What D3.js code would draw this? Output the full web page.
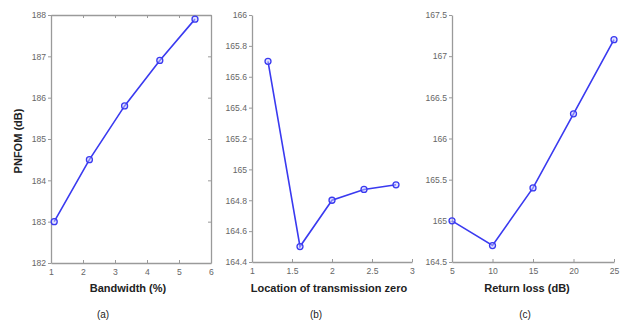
<!DOCTYPE html>
<html>
<head>
<meta charset="utf-8">
<script src="https://cdn.jsdelivr.net/npm/d3@7"></script>
<style>
  html, body { margin: 0; padding: 0; background: #fff; }
  svg { display: block; }
  .tick text { font-family: "Liberation Sans Narrow", "Liberation Sans", Arial, sans-serif; font-size: 8.6px; fill: #666; }
  .lbl { font-family: "Liberation Sans Narrow", "Liberation Sans", Arial, sans-serif; font-weight: bold; font-size: 11px; fill: #222; }
  .cap { font-family: "Liberation Sans Narrow", "Liberation Sans", Arial, sans-serif; font-size: 10px; fill: #222; }
</style>
</head>
<body>
<svg id="chart" width="627" height="322"></svg>
<script>
// Panel (a): PNFOM versus bandwidth
const bandwidth = [1.1, 2.2, 3.3, 4.4, 5.5];
const pnfomBandwidth = [183.0, 184.5, 185.8, 186.9, 187.9];
const bandwidthTicks = [1, 2, 3, 4, 5, 6];
const pnfomTicksA = [182, 183, 184, 185, 186, 187, 188];

// Panel (b): PNFOM versus location of transmission zero
const zeroLocation = [1.2, 1.6, 2.0, 2.4, 2.8];
const pnfomZero = [165.7, 164.5, 164.8, 164.87, 164.9];
const zeroTicks = [1, 1.5, 2, 2.5, 3];
const pnfomTicksB = [164.4, 164.6, 164.8, 165, 165.2, 165.4, 165.6, 165.8, 166];

// Panel (c): PNFOM versus return loss
const returnLoss = [5, 10, 15, 20, 25];
const pnfomReturn = [165.0, 164.7, 165.4, 166.3, 167.2];
const returnTicks = [5, 10, 15, 20, 25];
const pnfomTicksC = [164.5, 165, 165.5, 166, 166.5, 167, 167.5];

const svg = d3.select("#chart");
const blue = "#3a3af0";
const axisColor = "#9a9a9a";
const fmt = d => String(d);

const panels = [
  { xs: bandwidth, ys: pnfomBandwidth, xTicks: bandwidthTicks, yTicks: pnfomTicksA,
    xDom: [1, 6], yDom: [182, 188], left: 51, right: 211, top: 15, bottom: 263,
    xLabel: "Bandwidth (%)", labelX: 128, cap: "(a)", capX: 103, boxed: true },
  { xs: zeroLocation, ys: pnfomZero, xTicks: zeroTicks, yTicks: pnfomTicksB,
    xDom: [1, 3], yDom: [164.4, 166], left: 252, right: 412, top: 15, bottom: 262,
    xLabel: "Location of transmission zero", labelX: 329, cap: "(b)", capX: 316, boxed: false },
  { xs: returnLoss, ys: pnfomReturn, xTicks: returnTicks, yTicks: pnfomTicksC,
    xDom: [5, 25], yDom: [164.5, 167.5], left: 452, right: 614, top: 15, bottom: 262,
    xLabel: "Return loss (dB)", labelX: 527, cap: "(c)", capX: 525, boxed: false }
];

panels.forEach(p => {
  const x = d3.scaleLinear().domain(p.xDom).range([p.left, p.right]);
  const y = d3.scaleLinear().domain(p.yDom).range([p.bottom, p.top]);
  const g = svg.append("g");

  const styleAxis = sel => {
    sel.selectAll("path.domain").attr("stroke", axisColor).attr("stroke-width", 1.3);
    sel.selectAll(".tick line").attr("stroke", axisColor);
  };

  g.append("g").attr("transform", `translate(0,${p.bottom})`)
    .call(d3.axisBottom(x).tickValues(p.xTicks).tickFormat(fmt).tickSize(-3).tickSizeOuter(0).tickPadding(6))
    .call(styleAxis);
  g.append("g").attr("transform", `translate(${p.left},0)`)
    .call(d3.axisLeft(y).tickValues(p.yTicks).tickFormat(fmt).tickSize(3).tickSizeOuter(0).tickPadding(2))
    .call(styleAxis);

  if (p.boxed) {
    g.append("g").attr("transform", `translate(0,${p.top})`)
      .call(d3.axisTop(x).tickValues(p.xTicks).tickFormat("").tickSize(-3).tickSizeOuter(0))
      .call(styleAxis);
    g.append("g").attr("transform", `translate(${p.right},0)`)
      .call(d3.axisRight(y).tickValues(p.yTicks).tickFormat("").tickSize(-3).tickSizeOuter(0))
      .call(styleAxis);
  }

  const pts = p.xs.map((v, i) => [v, p.ys[i]]);
  g.append("path").datum(pts)
    .attr("fill", "none").attr("stroke", blue).attr("stroke-width", 1.6)
    .attr("d", d3.line().x(d => x(d[0])).y(d => y(d[1])));
  g.selectAll("circle.m").data(pts).join("circle")
    .attr("class", "m")
    .attr("cx", d => x(d[0])).attr("cy", d => y(d[1])).attr("r", 3)
    .attr("fill", "#c8c8ff").attr("fill-opacity", 0.5)
    .attr("stroke", blue).attr("stroke-width", 1.3);

  g.append("text").attr("class", "lbl")
    .attr("x", p.labelX).attr("y", 292)
    .attr("text-anchor", "middle").text(p.xLabel);
  g.append("text").attr("class", "cap")
    .attr("x", p.capX).attr("y", 318)
    .attr("text-anchor", "middle").text(p.cap);
});

svg.append("text").attr("class", "lbl")
  .attr("transform", "translate(22,141) rotate(-90)")
  .attr("text-anchor", "middle").text("PNFOM (dB)");
</script>
</body>
</html>
